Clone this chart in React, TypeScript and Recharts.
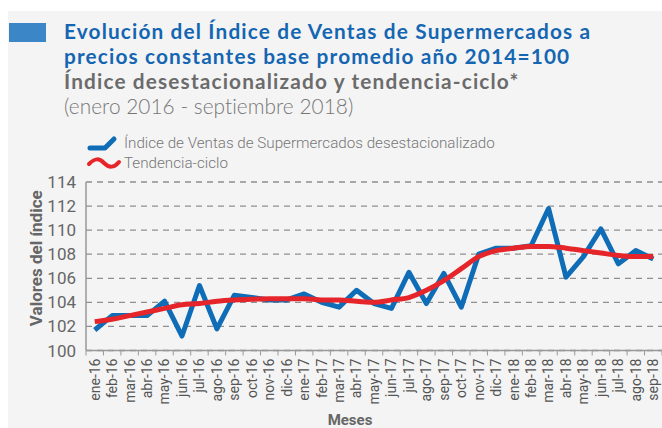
import React from "react";
import { LineChart, Line, XAxis, YAxis, CartesianGrid, Label } from "recharts";

const months = [
  "ene-16", "feb-16", "mar-16", "abr-16", "may-16", "jun-16", "jul-16", "ago-16", "sep-16", "oct-16", "nov-16", "dic-16",
  "ene-17", "feb-17", "mar-17", "abr-17", "may-17", "jun-17", "jul-17", "ago-17", "sep-17", "oct-17", "nov-17", "dic-17",
  "ene-18", "feb-18", "mar-18", "abr-18", "may-18", "jun-18", "jul-18", "ago-18", "sep-18",
];

const desestacionalizado = [
  101.7, 102.9, 102.9, 102.9, 104.1, 101.2, 105.4, 101.8, 104.6, 104.4, 104.2, 104.2,
  104.7, 104.0, 103.6, 105.0, 103.9, 103.5, 106.5, 103.9, 106.4, 103.6, 108.0, 108.5,
  108.5, 108.7, 111.8, 106.1, 107.8, 110.1, 107.2, 108.3, 107.6,
];

const tendencia = [
  102.4, 102.6, 102.9, 103.2, 103.5, 103.8, 103.9, 104.1, 104.2, 104.25, 104.3, 104.3,
  104.3, 104.2, 104.2, 104.1, 104.0, 104.2, 104.4, 105.0, 105.8, 106.8, 107.8, 108.3,
  108.5, 108.65, 108.65, 108.5, 108.3, 108.1, 107.9, 107.8, 107.8,
];

const yTicks = [100, 102, 104, 106, 108, 110, 112, 114];

const data = months.map((mes, i) => ({ mes, indice: desestacionalizado[i], tendencia: tendencia[i] }));

const BLUE = "#0f6cb6";
const RED = "#e5252a";
const GREY_TEXT = "#666";
const FONT = "Roboto, 'Open Sans', sans-serif";
const TITLE_FONT = "Lato, 'Open Sans', sans-serif";

const PLOT_LEFT = 86;
const CHART_W = 662;
const BAND = (CHART_W - PLOT_LEFT) / months.length;

const MonthTick = (props: any) => {
  const { x, y, payload, index } = props;
  return (
    <g>
      <line x1={x - BAND / 2} x2={x - BAND / 2} y1={y - 8} y2={y - 3} stroke="#999" strokeWidth={1} />
      {index === months.length - 1 && (
        <line x1={x + BAND / 2} x2={x + BAND / 2} y1={y - 8} y2={y - 3} stroke="#999" strokeWidth={1} />
      )}
      <text
        x={x}
        y={y}
        transform={`rotate(-90, ${x}, ${y})`}
        textAnchor="end"
        dy="0.35em"
        fontSize={14}
        fontFamily={FONT}
        fill="#555"
      >
        {payload.value}
      </text>
    </g>
  );
};

const YTitle = (props: any) => {
  const { viewBox } = props;
  const x = 36;
  const y = viewBox.y + viewBox.height / 2 - 8;
  return (
    <text
      x={x}
      y={y}
      transform={`rotate(-90, ${x}, ${y})`}
      textAnchor="middle"
      dy="0.35em"
      fontSize={17}
      fontWeight={700}
      fontFamily={FONT}
      fill={GREY_TEXT}
    >
      Valores del índice
    </text>
  );
};

const titleLine = (color: string, weight: number, spacing: number) => ({
  color,
  fontWeight: weight,
  fontSize: 20.8,
  lineHeight: "25px",
  letterSpacing: spacing,
});

export default function App() {
  return (
    <div style={{ position: "absolute", left: 0, top: 0, width: 662, height: 428, background: "#fff", overflow: "hidden" }}>
      <div style={{ position: "absolute", left: 8, top: 11, right: 0, bottom: 0, background: "#f4f4f4" }} />
      <div style={{ position: "absolute", left: 9, top: 23, width: 37, height: 19, background: "#3a86c6" }} />

      {/* title block */}
      <div style={{ position: "absolute", left: 64, top: 18, fontFamily: TITLE_FONT, whiteSpace: "nowrap" }}>
        <div style={titleLine("#1466b2", 700, 1.15)}>Evolución del Índice de Ventas de Supermercados a</div>
        <div style={titleLine("#1466b2", 700, 1.15)}>precios constantes base promedio año 2014=100</div>
        <div style={titleLine("#6b6b6b", 700, 1.15)}>Índice desestacionalizado y tendencia-ciclo*</div>
        <div style={titleLine("#777", 300, 0.05)}>(enero 2016 - septiembre 2018)</div>
      </div>

      {/* legend */}
      <div
        style={{
          position: "absolute",
          left: 86,
          top: 133,
          fontFamily: FONT,
          fontSize: 15.2,
          fontWeight: 300,
          color: "#777",
          lineHeight: "20px",
          whiteSpace: "nowrap",
        }}
      >
        <div style={{ display: "flex", alignItems: "center" }}>
          <svg width={38} height={20}>
            <polyline points="4,15 19,15 28,6" fill="none" stroke={BLUE} strokeWidth={5} strokeLinecap="round" strokeLinejoin="round" />
          </svg>
          <span>Índice de Ventas de Supermercados desestacionalizado</span>
        </div>
        <div style={{ display: "flex", alignItems: "center" }}>
          <svg width={38} height={20}>
            <path d="M3,11 C9,5 13,5 18,10 C23,15 28,15 33,9" fill="none" stroke={RED} strokeWidth={4} strokeLinecap="round" />
          </svg>
          <span>Tendencia-ciclo</span>
        </div>
      </div>

      <div style={{ position: "absolute", left: 0, top: 0 }}>
        <LineChart width={662} height={428} data={data} margin={{ top: 182, right: 0, bottom: 0, left: 0 }}>
          <CartesianGrid vertical={false} stroke="#8f8f8f" strokeDasharray="6 5" strokeWidth={1.3} />
          <XAxis
            dataKey="mes"
            scale="band"
            interval={0}
            height={77.5}
            tickLine={false}
            tickSize={5}
            tickMargin={3}
            axisLine={{ stroke: "#999", strokeWidth: 1.5 }}
            tick={<MonthTick />}
          >
            <Label value="Meses" position="insideBottom" offset={3} dx={-24} fontSize={15} fontWeight={700} fontFamily={FONT} fill={GREY_TEXT} />
          </XAxis>
          <YAxis
            width={86}
            domain={[100, 114]}
            ticks={yTicks}
            interval={0}
            tickLine={false}
            tickMargin={4}
            axisLine={{ stroke: "#999", strokeWidth: 1.5 }}
            tick={{ fontSize: 17, fill: GREY_TEXT, fontFamily: FONT }}
          >
            <Label content={<YTitle />} />
          </YAxis>
          <Line
            dataKey="indice"
            type="linear"
            stroke={BLUE}
            strokeWidth={5}
            strokeLinejoin="round"
            dot={false}
            activeDot={false}
            isAnimationActive={false}
          />
          <Line
            dataKey="tendencia"
            type="monotone"
            stroke={RED}
            strokeWidth={5}
            dot={false}
            activeDot={false}
            isAnimationActive={false}
          />
        </LineChart>
      </div>
    </div>
  );
}
